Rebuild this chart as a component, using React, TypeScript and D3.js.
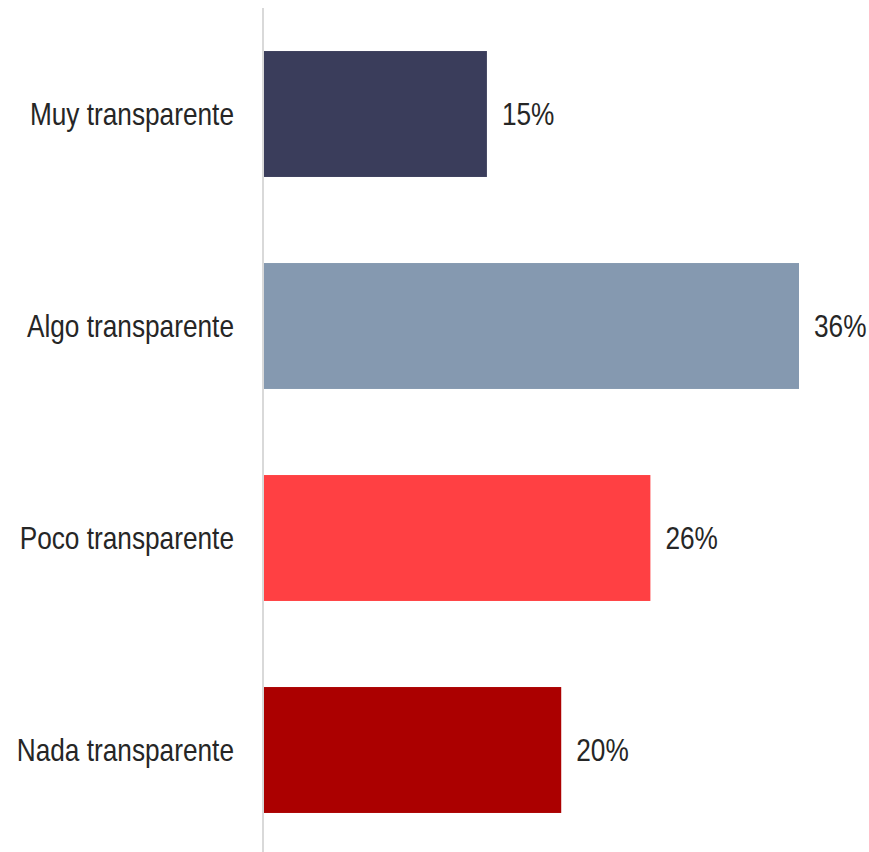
import React from "react";
import * as d3 from "d3";

const categories = ["Muy transparente", "Algo transparente", "Poco transparente", "Nada transparente"];
const values = [15, 36, 26, 20];
const colors = ["#3a3d5b", "#8599b0", "#ff4043", "#ab0000"];

export default function App() {
  const width = 869;
  const height = 852;
  const x0 = 264;
  const x = d3.scaleLinear().domain([0, 36]).range([x0, 799]);
  const y = d3
    .scaleBand<string>()
    .domain(categories)
    .range([8, 856])
    .paddingInner(0.406)
    .paddingOuter(0.203);
  const font = "'Liberation Sans', Arial, sans-serif";
  const sx = 0.82;
  return (
    <svg
      width={width}
      height={height}
      style={{ position: "absolute", left: 0, top: 0 }}
      fontFamily={font}
    >
      <rect width={width} height={height} fill="#ffffff" />
      {categories.map((c, i) => {
        const cy = y(c)! + y.bandwidth() / 2;
        return (
          <g key={c}>
            <rect
              x={x(0)}
              y={y(c)!}
              width={x(values[i]) - x(0)}
              height={y.bandwidth()}
              fill={colors[i]}
            />
            <text
              transform={`translate(234,${cy}) scale(${sx},1)`}
              dy="0.35em"
              textAnchor="end"
              fontSize={32}
              fill="#262626"
            >
              {c}
            </text>
            <text
              transform={`translate(${x(values[i]) + 15},${cy}) scale(${sx},1)`}
              dy="0.35em"
              textAnchor="start"
              fontSize={32}
              fill="#262626"
            >
              {values[i]}%
            </text>
          </g>
        );
      })}
      <line x1={263} x2={263} y1={8} y2={852} stroke="#d9d9d9" strokeWidth={2} />
    </svg>
  );
}
